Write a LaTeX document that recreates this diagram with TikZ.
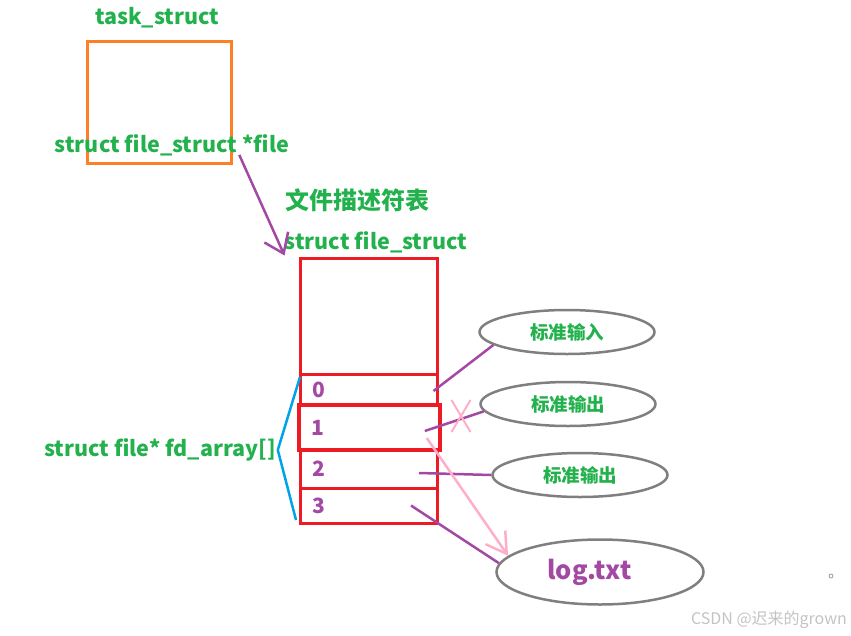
\documentclass[tikz,border=0pt]{standalone}
\usepackage{fontspec}
\setmainfont{Noto Sans CJK SC}
\usepackage{xcolor}
\usepackage{tikz}
\usetikzlibrary{arrows.meta, positioning, shapes.geometric, shapes.misc}
\definecolor{labgreen}{HTML}{22B14C}
\definecolor{boxorange}{HTML}{FF7F27}
\definecolor{boxred}{HTML}{ED1C24}
\definecolor{linkpurple}{HTML}{A349A4}
\definecolor{linkpink}{HTML}{FFAEC9}
\definecolor{bracketblue}{HTML}{00A2E8}
\definecolor{ringgray}{HTML}{7F7F7F}
\definecolor{markgray}{HTML}{C3C3C3}

\begin{document}
\begin{tikzpicture}[x=1pt, y=-1pt,
    lab/.style={font=\fontsize{21.5}{24}\selectfont\bfseries, text=labgreen, inner sep=0pt},
    slot/.style={rectangle, draw=boxred, line width=3pt, text width=113pt, align=left, inner xsep=12pt, inner ysep=1pt, font=\fontsize{21}{23}\selectfont\bfseries, text=linkpurple},
    stream/.style={ellipse, draw=ringgray, line width=2.5pt, minimum width=175pt, minimum height=44pt, inner sep=0pt, font=\fontsize{18.5}{20}\selectfont\bfseries, text=labgreen},
    link/.style={-, color=linkpurple, line width=2.5pt},
    hint/.style={color=linkpink, line width=2.5pt}
]
    \useasboundingbox (0,0) rectangle (851,635);

    \node[lab] (task) at (157,18) {task\_struct};
    \node[draw=boxorange, line width=3pt, minimum width=144pt, minimum height=122pt] (tsk) at (159,102) {};
    \node[lab] (ptr) at (172,145) {struct file\_struct *file};

    \node[lab, font=\fontsize{24}{26}\selectfont\bfseries] (tbl) at (357,200) {文件描述符表};
    \node[lab] (fsname) at (376,242) {struct file\_struct};
    \node[draw=boxred, line width=3pt, minimum width=137pt, minimum height=116pt] (fs) at (368.5,316) {};
    \node[slot, minimum height=31pt] (r0) at (368.5,389.5) {0};
    \node[slot, minimum height=45pt, line width=3.5pt, text width=117pt] (r1) at (369.5,427.5) {1};
    \node[slot, minimum height=38pt] (r2) at (368.5,469) {2};
    \node[slot, minimum height=35pt] (r3) at (368.5,505.5) {3};

    \node[lab] (fda) at (160,450) {struct file* fd\_array[]};
    \draw[bracketblue, line width=2.5pt] ([xshift=1.5pt,yshift=-4.5pt]r0.north west) -- ([xshift=2pt]fda.east) -- ([xshift=-2.5pt,yshift=4.5pt]r3.south west);

    \node[stream] (in0) at (567,332) {标准输入};
    \node[stream] (out1) at (568,404) {标准输出};
    \node[stream] (out2) at (580,475) {标准输出};
    \node[stream, minimum width=207pt, minimum height=65pt, font=\fontsize{25.5}{28}\selectfont\bfseries, text=linkpurple] (log) at (600,572) {\hspace*{-21pt}log.txt};

    \draw[link, -{Straight Barb[length=18pt,width=26pt]}] ([xshift=-50pt,yshift=1pt]ptr.south east) -- ([xshift=-14pt,yshift=1pt]fs.north west);
    \draw[link] ([xshift=-5pt,yshift=-1.5pt]r0.east) -- (in0.190);
    \draw[link] ([xshift=-17pt,yshift=-3.5pt]r1.east) -- (out1.185);
    \node[cross out, draw=linkpink, line width=2pt, minimum width=17pt, minimum height=30pt, inner sep=0pt] (cut) at (461,416) {};
    \draw[link] ([xshift=-19.5pt,yshift=-4pt]r2.east) -- (out2.west);
    \draw[link] ([xshift=-27.5pt]r3.east) -- (log.175);
    \draw[hint, -{Straight Barb[length=20pt,width=24pt]}] ([xshift=-15pt,yshift=-10.5pt]r1.east) -- (log.170);

    \node[circle, draw=ringgray, line width=0.6pt, minimum size=4pt, inner sep=0pt] (dot) at (831,576) {};
    \node[font=\fontsize{16}{18}\selectfont, text=markgray] (mark) at (769,620) {CSDN @迟来的grown};
\end{tikzpicture}
\end{document}
